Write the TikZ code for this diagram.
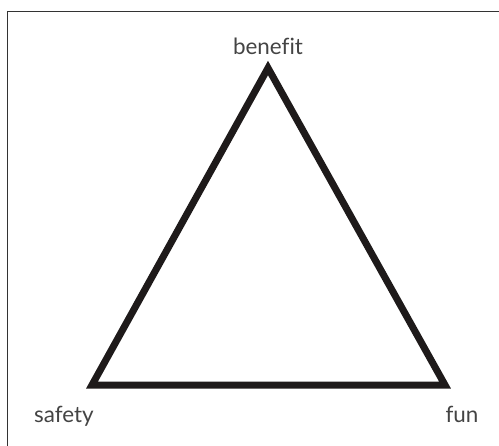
\documentclass[tikz,border=0pt]{standalone}
\usepackage{fontspec}
\setmainfont{Lato}[Ligatures=NoCommon]
\usetikzlibrary{positioning}
\definecolor{tritext}{HTML}{444444}
\definecolor{triedge}{HTML}{1E1A1A}

\begin{document}
\begin{tikzpicture}[x=1bp, y=-1bp,
    cornerlabel/.style={font=\fontsize{22.5}{26}\selectfont, text=tritext, inner sep=0pt, anchor=base},
    triside/.style={draw=triedge, line width=7bp, miter limit=10},
  ]
    \useasboundingbox (0,0) rectangle (499,446);
    % frame (top and left only)
    \draw[black!80, line width=1bp] (499,12) -- (7,12) -- (7,446);

    \coordinate (top) at (268,68);
    \coordinate (left) at (92,385);
    \coordinate (right) at (445,385);
    \draw[triside] (top) -- (right) -- (left) -- cycle;

    \node[cornerlabel] (benefit) at (268,55) {benefit};
    \node[cornerlabel] (safety) at (64,422) {safety};
    \node[cornerlabel] (fun) at (462,422) {fun};
  \end{tikzpicture}
\end{document}
